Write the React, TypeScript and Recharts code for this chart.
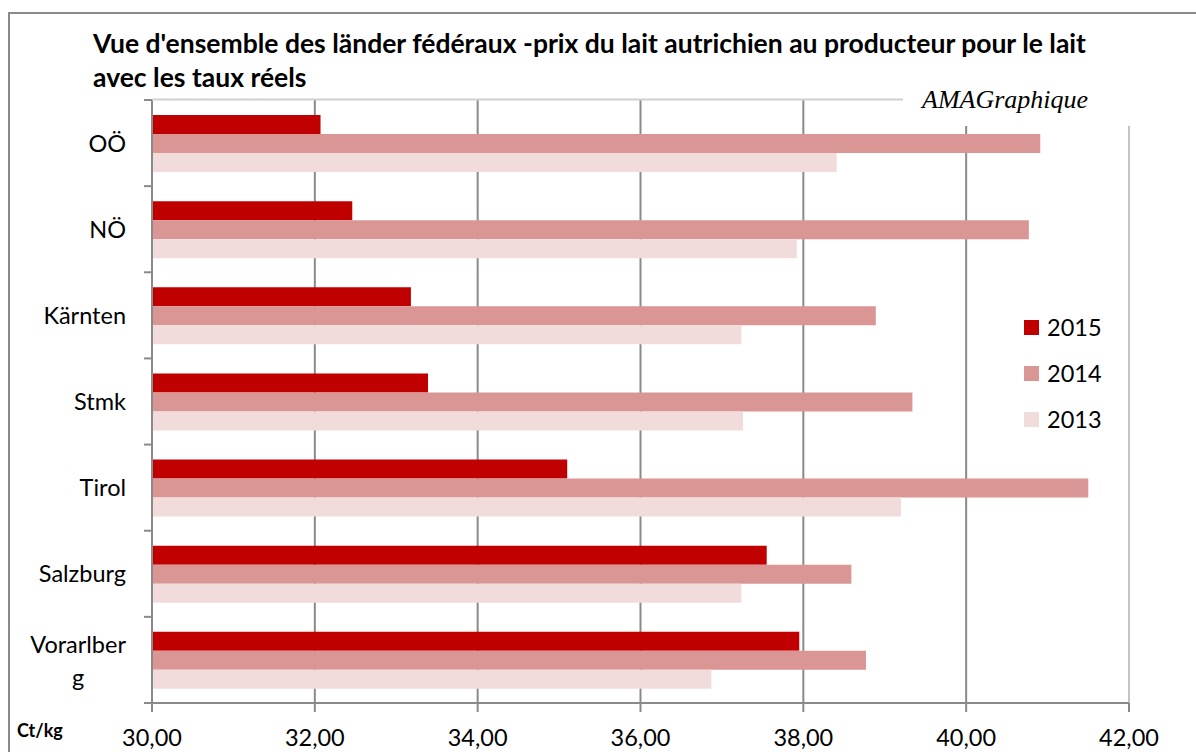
import React from 'react';
import {
  BarChart,
  Bar,
  XAxis,
  YAxis,
  CartesianGrid,
  ReferenceLine
} from 'recharts';

// Milk producer price, Ct/kg, per federal state
const regions = ['OÖ', 'NÖ ', 'Kärnten', 'Stmk', 'Tirol', 'Salzburg', 'Vorarlberg'];
const prix2015 = [32.07, 32.46, 33.18, 33.39, 35.10, 37.55, 37.95];
const prix2014 = [40.91, 40.77, 38.89, 39.34, 41.50, 38.59, 38.77];
const prix2013 = [38.41, 37.92, 37.24, 37.26, 39.20, 37.24, 36.87];
const xTicks = [30, 32, 34, 36, 38, 40, 42];

const series = [
  { key: 'y2015', name: '2015', color: '#C00000' },
  { key: 'y2014', name: '2014', color: '#DA9694' },
  { key: 'y2013', name: '2013', color: '#F2DCDB' }
];

const W = 1196;
const H = 752;
const PLOT_LEFT = 152;
const PLOT_TOP = 100;
const PLOT_RIGHT = 1129;
const PLOT_BOTTOM = 703;
const BAND = (PLOT_BOTTOM - PLOT_TOP) / regions.length;

const FONT = 'Lato, "Open Sans", sans-serif';
const LABEL_SIZE = 23.5;
const GRID = '#8a8a8a';

const chartData = regions.map((name, i) => ({
  name,
  y2015: prix2015[i],
  y2014: prix2014[i],
  y2013: prix2013[i]
}));

let ctx: CanvasRenderingContext2D | null = null;
const measure = (txt: string) => {
  if (!ctx) ctx = document.createElement('canvas').getContext('2d');
  if (!ctx) return txt.length * LABEL_SIZE * 0.5;
  ctx.font = `${LABEL_SIZE}px Lato`;
  return ctx.measureText(txt).width;
};

// excel-like wrap of long category names
const wrap = (label: string) => (label.length > 9 ? [label.slice(0, 9), label.slice(9)] : [label]);

const CategoryTick = (props: any) => {
  const { y, payload, index } = props;
  const lines = wrap(String(payload.value));
  const right = 126;
  const top = y - BAND / 2;
  const bottom = y + BAND / 2;
  let text;
  if (lines.length === 1) {
    text = (
      <text x={right} y={y + 8.5} textAnchor="end" fontFamily={FONT} fontSize={LABEL_SIZE} fill="#000">
        {lines[0]}
      </text>
    );
  } else {
    const w = measure(lines[0]);
    text = (
      <g fontFamily={FONT} fontSize={LABEL_SIZE} fill="#000">
        <text x={right} y={y - 7} textAnchor="end">{lines[0]}</text>
        <text x={right - w / 2} y={y + 26} textAnchor="middle">{lines[1]}</text>
      </g>
    );
  }
  return (
    <g>
      <line x1={PLOT_LEFT - 8} x2={PLOT_LEFT} y1={top} y2={top} stroke={GRID} strokeWidth={2} />
      {index === regions.length - 1 && (
        <line x1={PLOT_LEFT - 8} x2={PLOT_LEFT} y1={bottom} y2={bottom} stroke={GRID} strokeWidth={2} />
      )}
      {text}
    </g>
  );
};

const ValueTick = (props: any) => {
  const { x, y, payload } = props;
  return (
    <text x={x} y={y + 32} textAnchor="middle" fontFamily={FONT} fontSize={LABEL_SIZE} fill="#000">
      {Number(payload.value).toFixed(2).replace('.', ',')}
    </text>
  );
};

const LegendBox = () => (
  <div style={{ position: 'absolute', left: 1024, top: 304, fontFamily: FONT, fontSize: LABEL_SIZE, color: '#000' }}>
    {series.map(s => (
      <div key={s.key} style={{ height: 46, display: 'flex', alignItems: 'center' }}>
        <span style={{ width: 15, height: 15, background: s.color, display: 'inline-block', marginRight: 8 }} />
        <span>{s.name}</span>
      </div>
    ))}
  </div>
);

const App: React.FC = () => {
  return (
    <div style={{ position: 'absolute', left: 0, top: 0, width: W, height: H, overflow: 'hidden', background: '#fff' }}>
      <div
        style={{
          position: 'absolute',
          left: 8,
          top: 12,
          width: 1400,
          height: 1000,
          borderLeft: '2px solid #8a8a8a',
          borderTop: '2px solid #8a8a8a'
        }}
      />
      <div style={{ position: 'absolute', left: 0, top: 0 }}>
        <BarChart
          width={W}
          height={H}
          layout="vertical"
          data={chartData}
          margin={{ top: PLOT_TOP, right: W - PLOT_RIGHT, bottom: 0, left: 12 }}
          barSize={19}
          barGap={0}
        >
          <CartesianGrid horizontal={false} stroke={GRID} strokeWidth={2} />
          <XAxis
            type="number"
            domain={[30, 42]}
            ticks={xTicks}
            interval={0}
            height={H - PLOT_BOTTOM}
            tickSize={9}
            tickMargin={2}
            axisLine={{ stroke: GRID, strokeWidth: 2 }}
            tickLine={{ stroke: GRID, strokeWidth: 2 }}
            tick={<ValueTick />}
          />
          <YAxis
            type="category"
            dataKey="name"
            width={PLOT_LEFT - 12}
            axisLine={{ stroke: GRID, strokeWidth: 2 }}
            tickLine={false}
            interval={0}
            tick={<CategoryTick />}
          />
          <ReferenceLine x={42} stroke="#c4c4c4" strokeWidth={2} />
          {series.map(s => (
            <Bar key={s.key} dataKey={s.key} name={s.name} fill={s.color} isAnimationActive={false} />
          ))}
        </BarChart>
      </div>
      <LegendBox />
      <svg
        width={W}
        height={H}
        style={{ position: 'absolute', left: 0, top: 0, pointerEvents: 'none' }}
      >
        <line x1={PLOT_LEFT} x2={903} y1={99.5} y2={99.5} stroke="#d0d0d0" strokeWidth={2} />
        <rect x={903} y={70} width={260} height={56} fill="#fff" />
        <text x={922} y={108} fontFamily='"Liberation Serif", "Times New Roman", serif' fontStyle="italic" fontSize={26} fill="#000">
          AMAGraphique
        </text>
        <g fontFamily={FONT} fontWeight="bold" fontSize={26.5} fill="#000">
          <text x={93} y={53}>
            Vue d'ensemble des länder fédéraux -prix du lait autrichien au producteur pour le lait
          </text>
          <text x={93} y={87}>avec les taux réels</text>
        </g>
        <text x={17} y={737} fontFamily={FONT} fontWeight="bold" fontSize={18} fill="#000">
          Ct/kg
        </text>
      </svg>
    </div>
  );
};

export default App;
